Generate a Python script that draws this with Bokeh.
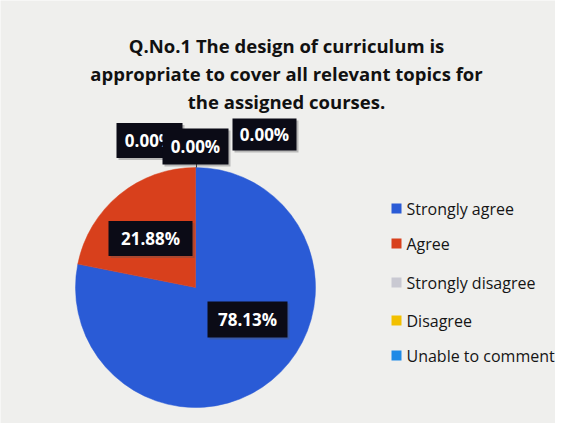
import math
from bokeh.plotting import figure
from bokeh.models import Range1d
from bokeh.core.properties import value
from bokeh.embed import file_html
from bokeh.resources import INLINE

title_lines = ["Q.No.1 The design of curriculum is",
               "appropriate to cover all relevant topics for",
               "the assigned courses."]
categories = ["Strongly agree", "Agree", "Strongly disagree", "Disagree", "Unable to comment"]
percents = [78.13, 21.88, 0.00, 0.00, 0.00]
labels = ["78.13%", "21.88%", "0.00%", "0.00%", "0.00%"]
colors = ["#2a5bd6", "#d8401c", "#c9c9d2", "#f2c000", "#1e8ae6"]

W, H = 555, 423
p = figure(width=W, height=H, output_backend="svg", toolbar_location=None,
           x_range=Range1d(0, W), y_range=Range1d(0, H), min_border=0)
p.axis.visible = False
p.grid.visible = False
p.outline_line_color = None
p.background_fill_color = "#efefed"
p.border_fill_color = "#efefed"

def fx(px): return px
def fy(py): return H - py

# title
for i, line in enumerate(title_lines):
    p.text(x=[fx(286)], y=[fy(45 + 28 * i)], text=[line], text_font=value("Open Sans"),
           text_font_style="bold", text_font_size="18.5px", text_color="#111111",
           text_align="center", text_baseline="middle")

# pie
cx, cy, r = fx(195), fy(287), 120
total = sum(percents)
cum = 0.0
starts, ends = [], []
for v in percents:
    a0 = math.pi / 2 - 2 * math.pi * cum / total
    cum += v
    a1 = math.pi / 2 - 2 * math.pi * cum / total
    starts.append(a0)
    ends.append(a1)
for i in range(len(percents)):
    if percents[i] > 0:
        p.wedge(x=cx, y=cy, radius=r, start_angle=starts[i], end_angle=ends[i],
                direction="clock", fill_color=colors[i], line_color=colors[i], line_width=0.5)

# leader line for zero labels
p.line(x=[fx(196), fx(196)], y=[fy(167), fy(160)], line_color="#333333", line_width=1)

# data label boxes (layout positions: center x, center y, width, height in page px)
boxes = [(149, 140, 66, 35), (195, 146, 66, 36), (264, 134, 64, 32), ]
boxes = [(247, 319, 80, 36), (150, 238, 84, 35)] + boxes
for (bx, by, bw, bh), lab in zip(boxes, labels):
    p.rect(x=[fx(bx) + 2], y=[fy(by) - 2], width=bw, height=bh, fill_color="#555555",
           fill_alpha=0.35, line_color=None)
    p.rect(x=[fx(bx)], y=[fy(by)], width=bw, height=bh, fill_color="#0b0b16", line_color=None)
    p.text(x=[fx(bx)], y=[fy(by)], text=[lab], text_font=value("Open Sans"),
           text_font_style="bold", text_font_size="17px", text_color="#ffffff",
           text_align="center", text_baseline="middle")

# legend
leg_y = [208, 243, 282, 320, 355]
for yy, cat, col in zip(leg_y, categories, colors):
    p.rect(x=[fx(396)], y=[fy(yy)], width=10, height=10, fill_color=col, line_color=None)
    p.text(x=[fx(406)], y=[fy(yy)], text=[cat], text_font=value("Open Sans"),
           text_font_size="16px", text_color="#151515", text_align="left", text_baseline="middle")

open("out.html", "w").write(file_html(p, INLINE))
